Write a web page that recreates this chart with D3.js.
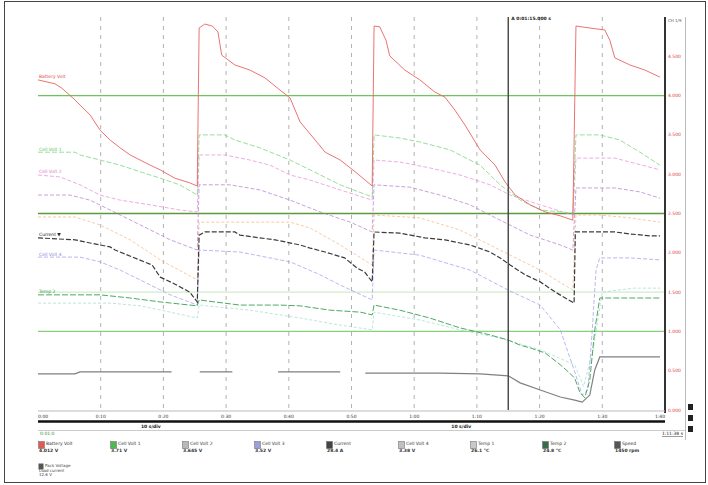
<!DOCTYPE html>
<html><head><meta charset="utf-8">
<script src="https://cdn.jsdelivr.net/npm/d3@7"></script>
<style>body{margin:0;background:#fff}svg{display:block}text{font-family:"DejaVu Sans",sans-serif}</style>
</head><body><svg id="c" width="708" height="485"></svg>
<script>
// ---- data (time in s, value in % of full scale) ----
const timeTicks = [0,10,20,30,40,50,60,70,80,90,100];
const timeTickLabels = ["0:00","0:10","0:20","0:30","0:40","0:50","1:00","1:10","1:20","1:30","1:40"];
const valueTicks = [90,80,70,60,50,40,30,20,10,0];
const valueTickLabels = ["4.500","4.000","3.500","3.000","2.500","2.000","1.500","1.000","0.500","0.000"];
const refLevels = [80,50,30,20];
const cursorTime = 75;

const redSeries = [[0,84],[2.7,83],[3.8,81.9],[5.9,78.9],[6.7,77.6],[8.3,75.1],[9.9,71.2],[11.5,68.7],[13.1,66.7],[14.7,64.9],[16.3,63.6],[17.9,62.3],[19.5,61.1],[21.8,59],[24.2,57.8],[25.4,57],[25.7,97.2],[26.6,98.2],[27.8,97.7],[28.7,96.2],[29.3,90.3],[31.4,87.8],[33.8,86.5],[36.2,84.5],[38.6,81.4],[40.2,79.4],[41.8,73.3],[44.2,68.7],[45.8,65.6],[48.2,63.6],[50.6,60.6],[53.3,57],[53.6,97.7],[54.5,97.5],[55.5,94.1],[56.1,90.1],[58.5,86.5],[60.9,84],[63.3,80.9],[64.9,79.6],[66.5,76.3],[68.1,72.5],[70.5,66.2],[72.9,62.3],[74.5,58],[76.1,54.7],[78.5,52.2],[80.9,50.4],[83.3,49.4],[85.3,48.3],[85.8,97.7],[88,97.2],[90.4,96.7],[91.2,94.1],[92,89.6],[94.4,87.8],[96.8,86.5],[99.2,84.7]];
const lightGreenSeries = [[0,65.6],[5.9,65.6],[6.7,64.9],[9.9,63.6],[13.1,62.3],[16.3,60.6],[19.5,59],[22.6,57.3],[25.4,54.7],[25.7,70],[29.8,70],[31.4,68.7],[35.4,66.7],[40.2,63.6],[43.4,61.1],[48.2,57.3],[53.3,54.2],[53.6,70],[57.7,69.2],[60.9,68.2],[65.7,66.2],[70.5,62.3],[73.7,57.3],[76.9,53.4],[80.1,50.9],[85.3,50.1],[85.8,70],[89.6,70],[92.8,68.7],[96,65.6],[99.2,62.3]];
const magentaSeries = [[0,59.8],[3.5,59.3],[6.7,57.3],[9.9,54.7],[13.1,53.4],[17.9,52.2],[22.6,50.9],[25.4,50.4],[25.7,64.9],[29.8,64.9],[33.8,63.6],[37,62.3],[40.2,59.8],[43.4,58.5],[48.2,56],[53.3,53.4],[53.6,63.6],[57.7,63.1],[62.5,61.6],[67.3,59.8],[72.1,57.3],[75.3,54.7],[80.1,52.2],[85.3,49.6],[85.8,64.1],[92,64.1],[94.4,63.1],[99.2,61.1]];
const purpleSeries = [[0,54.7],[5.1,54.7],[8.3,53.4],[11.5,50.9],[16.3,47.1],[21.1,43.3],[25.4,40.7],[25.7,57.3],[30.6,57.3],[35.4,56],[40.2,53.4],[45,50.4],[49.8,47.8],[53.3,45.3],[53.6,57.3],[59.3,56.7],[64.1,54.7],[68.9,52.2],[73.7,48.3],[78.5,44.5],[83.3,42],[85.3,40.7],[85.8,56.5],[92,56.5],[96,55.5],[99.2,53.9]];
const orangeSeries = [[0,49.1],[5.9,49.1],[9.9,47.1],[14.7,43.3],[19.5,38.2],[25.4,33.1],[25.7,47.8],[32.2,47.8],[40.2,47.8],[43.4,46.3],[48.2,42],[53.3,36.9],[53.6,49.6],[60.9,48.9],[67.3,45.8],[73.7,40.7],[80.1,35.6],[85.3,30.5],[85.8,49.6],[89.6,49.6],[94.4,48.9],[99.2,47.8]];
const blackSeries = [[0,43.8],[5.9,43.3],[8.3,42.5],[11.5,41.5],[12.3,40.7],[15.1,38.9],[18.2,36.9],[19.5,33.8],[21.5,32.3],[24.2,30],[25.4,27.5],[25.7,44.5],[26.6,45.3],[31.4,45.3],[32.2,44.5],[35.4,43.8],[37.8,43.3],[41.8,42],[43.4,41.2],[45.8,40.2],[48.9,38.7],[50.9,36.1],[52.1,35.1],[53.3,32.6],[53.6,45.3],[57.7,45],[61.7,43.8],[64.9,43.3],[67.3,42.5],[68.9,42],[72.1,40.2],[73.7,38.7],[75.3,36.9],[77.7,34.4],[80.1,32.6],[82.5,30],[85.2,27.5],[85.5,27.2],[85.7,45.3],[89.6,45.3],[92,45.3],[94.4,44.8],[97.6,44.3],[99.2,44.3]];
const lavenderSeries = [[0,38.9],[6.7,38.9],[9.9,37.7],[13.1,35.6],[16.3,33.1],[21.1,29.3],[25.4,26.7],[25.7,40.7],[32.2,40.2],[40.2,37.7],[45,34.4],[48.2,31.8],[53.3,28],[53.6,40.7],[60.9,39.4],[68.9,35.6],[75,30.5],[80.1,26.7],[83.3,20.4],[85.5,10.2],[86.8,3.8],[87.7,5.1],[88.4,20.4],[89,35.6],[89.6,38.7],[94.4,38.7],[99.2,38.2]];
const greenSeries = [[0,29.3],[9.9,29.3],[14.7,28.5],[19.5,27.5],[25.4,26.5],[25.7,28],[32.2,26.7],[38.6,26.7],[41.8,26.5],[46.6,25.4],[51.4,24.9],[53.3,24.2],[53.6,26.7],[57.7,25.4],[62.5,23.4],[67.3,20.9],[72.1,19.1],[75,17.8],[76.9,16.5],[78.5,15.8],[80.9,14.5],[83.3,11.5],[84.8,9.4],[85.6,8.1],[86.4,4.6],[87.2,3.1],[88,7.6],[88.8,20.4],[89.6,28.5],[96,28.5],[99.2,28.5]];
const tealSeries = [[0,27.2],[11.5,27.2],[16.3,26.5],[21.1,24.9],[25.4,23.4],[25.7,26.7],[33.8,25.4],[41.8,23.4],[48.2,21.6],[53.3,20.4],[53.6,24.9],[60.9,22.9],[67.3,20.4],[73.7,18.3],[80.1,15.3],[85.6,11.5],[87,6],[88.5,15],[90,30],[95,31],[99.2,31]];
const graySeries = [[0,9.2],[5.9,9.2],[6.7,9.7],[21.3,9.7],[null,null],[25.8,9.7],[31,9.7],[null,null],[38.3,9.7],[48.2,9.7],[null,null],[52.2,9.4],[64.1,9.4],[70.5,9.2],[75,8.7],[76.9,6.9],[80.1,5.1],[83.3,3.3],[85.6,2.5],[86.8,2],[88,3.8],[88.8,10.2],[89.6,13.5],[99.2,13.5]];

const channelNames = ["Battery Volt","Cell Volt 1","Cell Volt 2","Cell Volt 3","Current","Cell Volt 4","Temp 1","Temp 2","Speed"];
const channelValues = ["4.012 V","3.71 V","3.645 V","3.52 V","28.4 A","3.38 V","26.1 °C","24.8 °C","1450 rpm"];
const extraLegend = ["Pack Voltage","Load current","12.6 V"];

// ---- drawing ----
const svg = d3.select("#c");
const L=38,R=665,T=17,B=410;
const x = d3.scaleLinear().domain([0,100]).range([L,R]);
const y = d3.scaleLinear().domain([0,100]).range([B,T]);

svg.append("rect").attr("width",708).attr("height",485).attr("fill","#fff");
svg.append("rect").attr("x",4.5).attr("y",1.5).attr("width",701).attr("height",481)
  .attr("fill","none").attr("stroke","#444").attr("stroke-width",1);

// vertical grid
svg.append("g").selectAll("line").data(timeTicks.slice(1,-1)).join("line")
  .attr("x1",d=>x(d)).attr("x2",d=>x(d)).attr("y1",T).attr("y2",B)
  .attr("stroke","#a0a0a0").attr("stroke-width",0.8).attr("stroke-dasharray","4,5");

// reference levels
const refColors = ["#6cc45c","#5a9a3a","#c4e8bc","#88d07c"];
const refWidths = [1.4,1.6,1,1.1];
svg.append("g").selectAll("line").data(refLevels).join("line")
  .attr("x1",L).attr("x2",R).attr("y1",d=>y(d)).attr("y2",d=>y(d))
  .attr("stroke",(d,i)=>refColors[i]).attr("stroke-width",(d,i)=>refWidths[i]);

// traces
const line = d3.line().defined(d=>d[0]!==null).x(d=>x(d[0])).y(d=>y(d[1]));
const traces = [
  {data:tealSeries,color:"#9ad8c8",w:0.9,o:0.75,da:"3,2"},
  {data:orangeSeries,color:"#f2b27a",w:0.9,o:0.75,da:"3,2"},
  {data:lavenderSeries,color:"#9c9cec",w:0.9,o:0.8,da:"4,2"},
  {data:purpleSeries,color:"#b070cc",w:0.9,o:0.75,da:"4,2"},
  {data:magentaSeries,color:"#e58cd8",w:0.9,o:0.8,da:"4,2"},
  {data:lightGreenSeries,color:"#88d888",w:1,o:0.85,da:"5,2"},
  {data:graySeries,color:"#6a6a6a",w:1.2,o:0.85,da:null},
  {data:greenSeries,color:"#2f9a48",w:1,o:0.85,da:"6,2"},
  {data:blackSeries,color:"#1a1a1a",w:1.2,o:0.85,da:"5,2"},
  {data:redSeries,color:"#e86464",w:1,o:0.9,da:null}
];
svg.append("g").selectAll("path").data(traces).join("path")
  .attr("d",d=>line(d.data)).attr("fill","none")
  .attr("stroke",d=>d.color).attr("stroke-width",d=>d.w).attr("opacity",d=>d.o)
  .attr("stroke-dasharray",d=>d.da);

// trace labels at left
const startLabels = [
  {s:redSeries,c:"#e04848",t:"Battery Volt"},
  {s:lightGreenSeries,c:"#60c060",t:"Cell Volt 1"},
  {s:magentaSeries,c:"#d878c8",t:"Cell Volt 2"},
  {s:blackSeries,c:"#222",t:"Current ▼"},
  {s:lavenderSeries,c:"#8888e0",t:"Cell Volt 4"},
  {s:greenSeries,c:"#2f9a48",t:"Temp 2"}
];
svg.append("g").selectAll("text").data(startLabels).join("text")
  .attr("x",L+1).attr("y",d=>y(d.s[0][1])-1.5).attr("font-size",4.5)
  .attr("fill",d=>d.c).text(d=>d.t);

// cursor
svg.append("line").attr("x1",x(cursorTime)).attr("x2",x(cursorTime)).attr("y1",T).attr("y2",B)
  .attr("stroke","#444").attr("stroke-width",1.4);
svg.append("text").attr("x",x(cursorTime)+3).attr("y",T+3).attr("font-size",4.5).attr("fill","#222")
  .attr("font-weight","bold").text("A  0:01:15.000 s");

// right axis
svg.append("line").attr("x1",R).attr("x2",R).attr("y1",T).attr("y2",B+3)
  .attr("stroke","#333").attr("stroke-width",2);
svg.append("line").attr("x1",685.5).attr("x2",685.5).attr("y1",T).attr("y2",440)
  .attr("stroke","#bbb").attr("stroke-width",1);
svg.append("g").selectAll("text").data(valueTicks).join("text")
  .attr("x",668).attr("y",d=>y(d)+1.5).attr("font-size",4.5).attr("fill","#d84040")
  .text((d,i)=>valueTickLabels[i]);
svg.append("text").attr("x",668).attr("y",22).attr("font-size",4).attr("fill","#555").text("CH 1/9");
svg.append("g").selectAll("rect").data([0,1,2]).join("rect")
  .attr("x",688).attr("y",d=>404+d*11).attr("width",5).attr("height",6).attr("fill","#222");

// bottom axis
svg.append("line").attr("x1",L).attr("x2",R).attr("y1",B+1).attr("y2",B+1).attr("stroke","#bbb");
svg.append("g").selectAll("text").data(timeTicks).join("text")
  .attr("x",d=>x(d)).attr("y",418).attr("font-size",4.5).attr("fill","#333")
  .attr("text-anchor",(d,i)=>i===0?"start":(i===timeTicks.length-1?"end":"middle"))
  .text((d,i)=>timeTickLabels[i]);
svg.append("line").attr("x1",L).attr("x2",R).attr("y1",421.5).attr("y2",421.5)
  .attr("stroke","#111").attr("stroke-width",2.5);
svg.append("text").attr("x",x(18)).attr("y",427.5).attr("font-size",4.5).attr("font-weight","bold")
  .attr("fill","#222").attr("text-anchor","middle").text("10 s/div");
svg.append("text").attr("x",x(67.5)).attr("y",427.5).attr("font-size",4.5).attr("font-weight","bold")
  .attr("fill","#222").attr("text-anchor","middle").text("10 s/div");
svg.append("line").attr("x1",L).attr("x2",R+20).attr("y1",430.5).attr("y2",430.5).attr("stroke","#ccc");
svg.append("text").attr("x",L+2).attr("y",435).attr("font-size",4.5).attr("fill","#3a8a3a").text("0:01:0");
svg.append("text").attr("x",683).attr("y",435).attr("font-size",4.5).attr("fill","#222")
  .attr("text-anchor","end").attr("text-decoration","underline").text("1:11:38 s");

// legend
const legendColors = ["#e05a5a","#50b850","#b8b8b8","#9aa0d8","#444","#c0c0c0","#c8c8c8","#3a6a4a","#555"];
const lg = svg.append("g").selectAll("g").data(channelNames).join("g")
  .attr("transform",(d,i)=>`translate(${L+i*72},441)`);
lg.append("rect").attr("x",0.5).attr("y",0.5).attr("width",6).attr("height",7)
  .attr("fill",(d,i)=>legendColors[i]).attr("stroke","#666").attr("stroke-width",0.5);
lg.append("text").attr("x",8).attr("y",4).attr("font-size",4.5).attr("fill","#333").text(d=>d);
lg.append("text").attr("x",1).attr("y",11).attr("font-size",4.5).attr("font-weight","bold").attr("fill","#333")
  .text((d,i)=>channelValues[i]);
const ex = svg.append("g").attr("transform",`translate(${L},463)`);
ex.append("rect").attr("x",0.5).attr("y",0.5).attr("width",5).attr("height",6).attr("fill","#555");
ex.selectAll("text").data(extraLegend).join("text")
  .attr("x",(d,i)=>i===0?7:1).attr("y",(d,i)=>4+i*4.5).attr("font-size",4).attr("fill","#444").text(d=>d);
</script></body></html>
